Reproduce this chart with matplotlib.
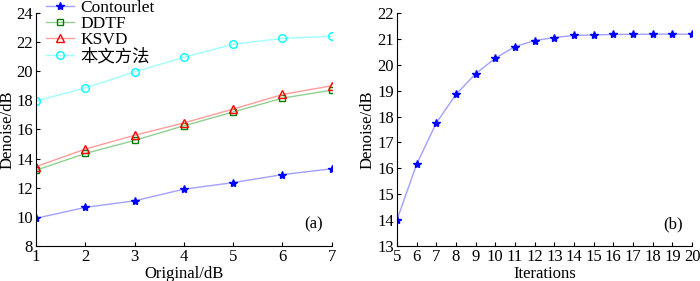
import matplotlib.pyplot as plt
import numpy as np

plt.rcParams["font.family"] = ["Liberation Serif", "Noto Sans CJK SC"]
plt.rcParams["font.size"] = 12
plt.rcParams["xtick.direction"] = "in"
plt.rcParams["ytick.direction"] = "in"

# panel (a)
original_db = [1, 2, 3, 4, 5, 6, 7]
contourlet = [9.9, 10.65, 11.1, 11.9, 12.35, 12.9, 13.3]
ddtf = [13.2, 14.35, 15.25, 16.25, 17.2, 18.15, 18.7]
ksvd = [13.45, 14.65, 15.6, 16.45, 17.4, 18.4, 19.0]
proposed = [17.95, 18.85, 19.95, 20.95, 21.85, 22.25, 22.4]

# panel (b)
iterations = list(range(5, 21))
denoise_iter = [14.0, 16.15, 17.75, 18.85, 19.65, 20.25, 20.7, 20.93,
                21.05, 21.13, 21.15, 21.17, 21.17, 21.18, 21.18, 21.18]

fig = plt.figure(figsize=(7, 2.81), dpi=100)
ax1 = fig.add_axes([0.0514, 0.1246, 0.4226, 0.8294])
ax2 = fig.add_axes([0.567, 0.1246, 0.4216, 0.8294])

series = [
    (contourlet, "Contourlet", "*", 6, "blue", "#a0a0ff", "blue"),
    (ddtf, "DDTF", "s", 5, "green", "#90d090", "none"),
    (ksvd, "KSVD", "^", 5.5, "red", "#ff9c9c", "none"),
    (proposed, "本文方法", "o", 5.5, "cyan", "#a0ffff", "none"),
]
for vals, name, mk, ms, mc, lc, fc in series:
    ax1.plot(original_db, vals, color=lc, lw=1, marker=mk, markersize=ms,
             markeredgecolor=mc, markerfacecolor=fc, markeredgewidth=1,
             label=name)

ax1.set_xlim(1, 7)
ax1.set_ylim(8, 24)
ax1.set_xticks(original_db)
ax1.set_yticks(np.arange(8, 25, 2))
ax1.set_xlabel("Original/dB", labelpad=1)
ax1.set_ylabel("Denoise/dB", labelpad=1)
ax1.text(0.97, 0.06, "(a)", transform=ax1.transAxes, ha="right", va="bottom")
ax1.legend(loc="upper left", bbox_to_anchor=(0.0, 1.1), frameon=False,
           handlelength=1.6, handletextpad=0.35, labelspacing=0.0,
           borderaxespad=0.2,
           prop={"family": ["Liberation Serif", "Noto Sans CJK SC"], "size": 12.5})

ax2.plot(iterations, denoise_iter, color="#a0a0ff", lw=1, marker="*",
         markersize=6, markeredgecolor="blue", markerfacecolor="blue")
ax2.set_xlim(5, 20)
ax2.set_ylim(13, 22)
ax2.set_xticks(iterations)
ax2.set_yticks(np.arange(13, 23, 1))
ax2.set_xlabel("Iterations", labelpad=1)
ax2.set_ylabel("Denoise/dB", labelpad=1)
ax2.text(0.97, 0.06, "(b)", transform=ax2.transAxes, ha="right", va="bottom")

for ax in (ax1, ax2):
    ax.spines["top"].set_visible(False)
    ax.spines["right"].set_visible(False)
    ax.tick_params(length=3, pad=2)

fig.savefig("out.png", dpi=100)
